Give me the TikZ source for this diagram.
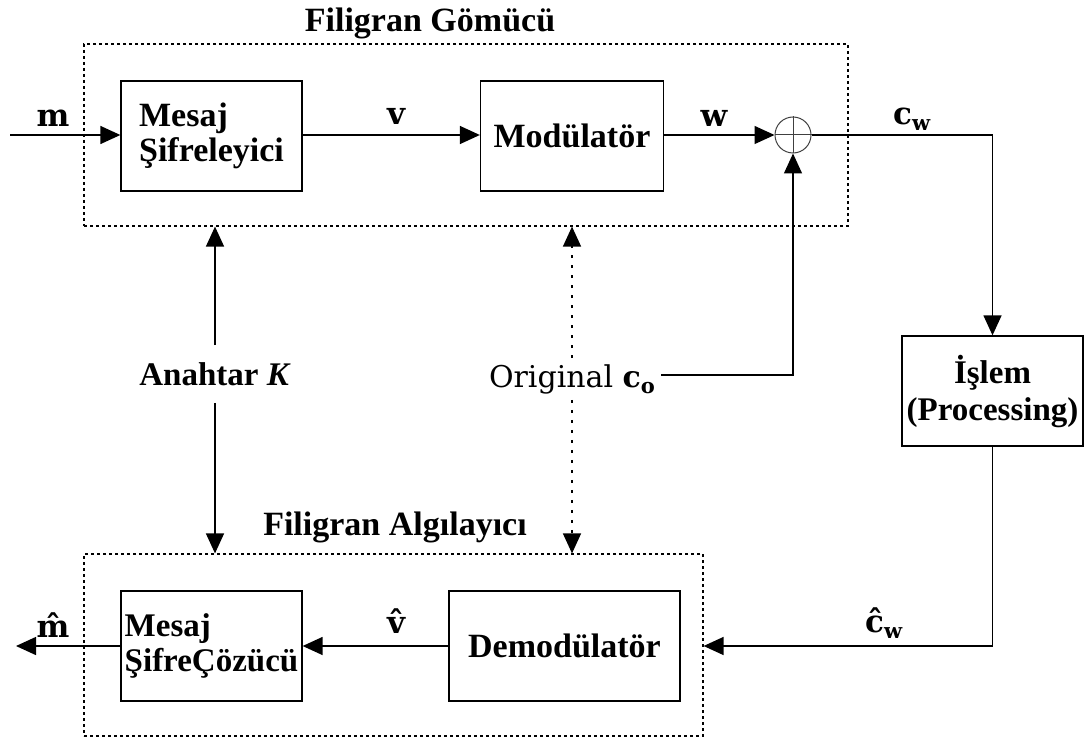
\documentclass[tikz,border=0pt]{standalone}
\usepackage{fontspec}
\setmainfont{Liberation Serif}
\newfontfamily\slab{DejaVu Serif}
\usetikzlibrary{arrows.meta}

\begin{document}
\begin{tikzpicture}[x=1pt,y=-1pt,
  every node/.style={inner sep=0pt},
  block/.style={draw, line width=1.3pt, minimum width=181pt, minimum height=110pt,
    align=left, font=\fontsize{34}{35}\selectfont\bfseries},
  group/.style={draw, line width=1.2pt, dash pattern=on 3pt off 3pt},
  title/.style={font=\fontsize{34}{36}\selectfont\bfseries, anchor=base},
  sig/.style={font=\fontsize{31}{32}\selectfont\slab\bfseries, anchor=base},
  wire/.style={line width=1.4pt},
  arr/.style={wire, -{Triangle[length=20pt,width=18pt]}},
  dotarr/.style={line width=1.4pt, dash pattern=on 3pt off 7pt, -{Triangle[length=20pt,width=18pt]}},
]
\useasboundingbox (0,0) rectangle (1091,738);

% embedder and detector groups
\node[group, minimum width=764pt, minimum height=182pt] (emb) at (466,135) {};
\node[group, minimum width=619pt, minimum height=182pt] (det) at (393.5,645) {};
\node[title] (embt) at (430,32) {Filigran Gömücü};
\node[title] (dett) at (395,535) {Filigran Algılayıcı};

% processing blocks
\node[block] (enc) at (211.5,136) {Mesaj\\Şifreleyici};
\node[block, minimum width=183pt, align=center] (mod) at (572,136) {Modülatör};
\node[circle, draw=black!75, line width=1pt, minimum size=36pt] (sum) at (793,135) {};
\draw[line width=1pt, black!75] (sum.north) -- (sum.south) (sum.west) -- (sum.east);
\node[block, align=center, font=\fontsize{33}{37}\selectfont\bfseries] (proc) at (992.5,391) {İşlem\\(Processing)};
\node[block, font=\fontsize{33}{35}\selectfont\bfseries] (dec) at (211.5,646) {Mesaj\\ŞifreÇözücü};
\node[block, minimum width=231pt, align=center] (dem) at (564.5,646) {Demodülatör};

% side inputs
\node[font=\fontsize{33}{35}\selectfont\bfseries, inner ysep=17pt] (key) at (215,374) {Anahtar \textit{K}};
\node[font=\fontsize{30}{32}\selectfont\slab, anchor=base, inner sep=6pt] (orig) at (572,387)
  {Original \textbf{c}\raisebox{-6pt}{\fontsize{21}{21}\selectfont\bfseries o}};

% free ends
\coordinate (in) at (10,135);
\coordinate (out) at (16,646);

% forward path
\draw[arr] (in) -- (enc.west |- in);
\draw[arr] (enc.east |- in) -- (mod.west |- in);
\draw[arr] (mod.east |- in) -- (sum.west);
\draw[arr] (sum.east) -| (proc.north);
\draw[arr] (proc.south) |- (det.east |- 0,646);
\draw[arr] (dem.west) -- (dec.east);
\draw[arr] (dec.west) -- (out);

% key and original content
\draw[arr] (key.north) -- (key.north |- emb.south);
\draw[arr] (key.south) -- (key.south |- det.north);
\draw[dotarr] (orig.north) -- (orig.north |- emb.south);
\draw[dotarr] (orig.south) -- (orig.south |- det.north);
\draw[arr] ([yshift=12pt]orig.base east) -| (sum.south);

% signal labels
\node[sig] (lm) at (53,127) {m};
\node[sig] (lv) at (396,125) {v};
\node[sig] (lw) at (714,127) {w};
\node[sig, anchor=base west] (lcw) at (893,125) {c\raisebox{-6pt}{\fontsize{21}{21}\selectfont w}};
\node[sig] (lmh) at (53,637) {m̂};
\node[sig] (lvh) at (396,633) {v̂};
\node[sig, anchor=base west] (lcwh) at (865,632) {ĉ\raisebox{-6pt}{\fontsize{21}{21}\selectfont w}};
\end{tikzpicture}
\end{document}
